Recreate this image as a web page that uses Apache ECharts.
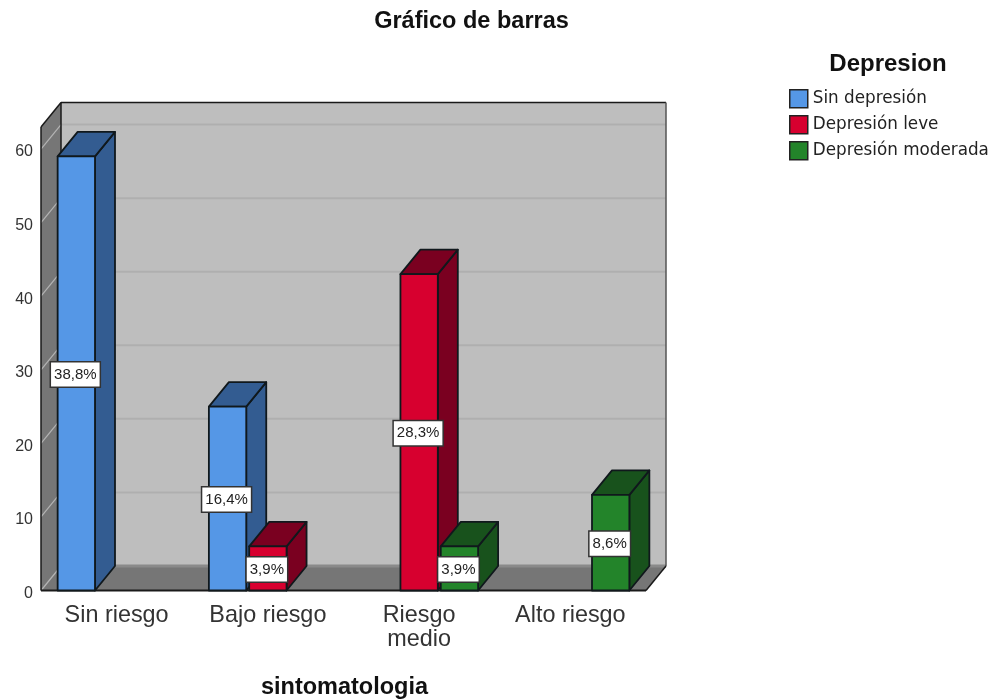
<!DOCTYPE html>
<html><head><meta charset="utf-8">
<style>html,body{margin:0;padding:0;background:#fff}#c{width:992px;height:700px}</style>
<script src="https://cdn.jsdelivr.net/npm/echarts@6/dist/echarts.min.js"></script>
</head><body><div id="c"></div>
<script>
const categories = ['Sin riesgo', 'Bajo riesgo', 'Riesgo\nmedio', 'Alto riesgo'];
const sinDepresion = [59, 25, null, null];
const depresionLeve = [null, 6, 43, null];
const depresionModerada = [null, null, 6, 13];
const pctSinDepresion = ['38,8%', '16,4%', null, null];
const pctDepresionLeve = [null, '3,9%', '28,3%', null];
const pctDepresionModerada = [null, null, '3,9%', '8,6%'];
const yTicks = [0, 10, 20, 30, 40, 50, 60];
const yMax = 63;
const seriesNames = ['Sin depresión', 'Depresión leve', 'Depresión moderada'];

const FRONT = ['#5597E6', '#D7002F', '#23842A'];
const SHADE = ['#335C91', '#7A0020', '#18521C'];
const EDGE = '#10181c';
const DX = 20, DY = -24.5;
const FONT = '"Liberation Sans", Arial, sans-serif';

const chart = echarts.init(document.getElementById('c'), null, {renderer: 'canvas'});

function renderWall(params, api) {
  const g = params.coordSys;
  const l = g.x, r = g.x + g.width;
  const y0 = api.coord([0, 0])[1], yT = api.coord([0, yMax])[1];
  const poly = (pts, fill) => ({type: 'polygon', shape: {points: pts}, style: {fill: fill}});
  const line = (a, b, c, w) => ({type: 'line', shape: {x1: a[0], y1: a[1], x2: b[0], y2: b[1]},
    style: {stroke: c, lineWidth: w}});
  const ch = [];
  ch.push(poly([[l + DX, yT + DY], [r + DX, yT + DY], [r + DX, y0 + DY], [l + DX, y0 + DY]], '#BEBEBE'));
  ch.push(poly([[l, y0], [l + DX, y0 + DY], [l + DX, yT + DY], [l, yT]], '#767676'));
  ch.push(poly([[l, y0], [l + DX, y0 + DY], [r + DX, y0 + DY], [r, y0]], '#767676'));
  yTicks.forEach(v => {
    const y = api.coord([0, v])[1];
    ch.push(line([l, y], [l + DX, y + DY], '#B4B4B4', 1.2));
    ch.push(line([l + DX, y + DY], [r + DX, y + DY], v === 0 ? '#8a8a8a' : '#AFAFAF', v === 0 ? 3 : 2));
  });
  ch.push(line([l + DX, yT + DY], [r + DX, yT + DY], '#1a1a1a', 1.5));
  ch.push(line([r + DX, yT + DY], [r + DX, y0 + DY], '#555', 1.5));
  ch.push(line([l + DX, yT + DY], [l + DX, y0 + DY], '#1a1a1a', 1.5));
  ch.push(line([l, yT], [l + DX, yT + DY], '#1a1a1a', 1.5));
  ch.push(line([l, yT], [l, y0], '#1a1a1a', 1.5));
  ch.push(line([l, y0], [r, y0], '#1a1a1a', 2));
  ch.push(line([r, y0], [r + DX, y0 + DY], '#1a1a1a', 1.5));
  return {type: 'group', children: ch};
}

function renderBar(k, labels) {
  return function (params, api) {
    const v = api.value(1);
    if (v == null || isNaN(v)) return null;
    const i = api.value(0);
    const band = api.size([1, 0])[0];
    const step = band * 0.2665, w = band * 0.247;
    const c = api.coord([i, v]);
    const base = api.coord([i, 0])[1];
    const cx = c[0] + (k - 1) * step;
    const x1 = cx - w / 2, x2 = cx + w / 2, top = c[1];
    const st = f => ({fill: f, stroke: EDGE, lineWidth: 1.8, lineJoin: 'round'});
    const ch = [
      {type: 'polygon', shape: {points: [[x2, base], [x2 + DX, base + DY], [x2 + DX, top + DY], [x2, top]]}, style: st(SHADE[k])},
      {type: 'polygon', shape: {points: [[x1, top], [x1 + DX, top + DY], [x2 + DX, top + DY], [x2, top]]}, style: st(SHADE[k])},
      {type: 'rect', shape: {x: x1, y: top, width: w, height: base - top}, style: st(FRONT[k])}
    ];
    ch.push({type: 'text', z2: 100, x: cx - 1, y: (top + base) / 2 + 1,
      style: {text: labels[i], fill: '#222', font: '15px ' + FONT, align: 'center', verticalAlign: 'middle',
        backgroundColor: '#fff', borderColor: '#333', borderWidth: 1.5, padding: [5, 3, 4, 3]}});
    return {type: 'group', children: ch};
  };
}

function toData(vals) { return vals.map((v, i) => [i, v == null ? NaN : v]); }

chart.setOption({
  animation: false,
  backgroundColor: '#fff',
  title: [
    {text: 'Gráfico de barras', left: 466.5, top: 5, textAlign: 'center', textStyle: {fontFamily: FONT, fontWeight: 'bold', fontSize: 23.5, color: '#111'}},
    {text: 'sintomatologia', left: 339.5, top: 671, textAlign: 'center', textStyle: {fontFamily: FONT, fontWeight: 'bold', fontSize: 23.5, color: '#111'}},
    {text: 'Depresion', left: 883, top: 47, textAlign: 'center', textStyle: {fontFamily: FONT, fontWeight: 'bold', fontSize: 24, color: '#111'}}
  ],
  legend: {
    left: 784, top: 84, orient: 'vertical', itemWidth: 18, itemHeight: 18, itemGap: 6.5, selectedMode: false,
    data: seriesNames.map(n => ({name: n, icon: 'rect'})),
    itemStyle: {borderColor: '#222', borderWidth: 1.5},
    textStyle: {fontFamily: 'DejaVu Sans', fontSize: 16.8, color: '#222'}
  },
  grid: {left: 41, right: 346, top: 127, bottom: 109.5, containLabel: false},
  xAxis: {type: 'category', data: categories, axisTick: {show: false}, axisLine: {show: false}, splitLine: {show: false},
    axisLabel: {fontFamily: FONT, fontSize: 23.4, color: '#333', lineHeight: 24, margin: 13, interval: 0}},
  yAxis: {type: 'value', min: 0, max: yMax, interval: 10, axisTick: {show: false}, axisLine: {show: false}, splitLine: {show: false},
    axisLabel: {margin: 8, showMaxLabel: false, formatter: '{a|{value}}',
      rich: {a: {fontFamily: FONT, fontSize: 16, color: '#333', padding: [6, 0, 0, 0]}}}},
  series: [
    {type: 'custom', name: 'wall', silent: true, renderItem: renderWall, data: [[0, 0]], encode: {x: 0, y: 1}, z: 1},
    {type: 'custom', name: seriesNames[0], silent: true, renderItem: renderBar(0, pctSinDepresion), data: toData(sinDepresion), encode: {x: 0, y: 1}, itemStyle: {color: FRONT[0]}, z: 2},
    {type: 'custom', name: seriesNames[1], silent: true, renderItem: renderBar(1, pctDepresionLeve), data: toData(depresionLeve), encode: {x: 0, y: 1}, itemStyle: {color: FRONT[1]}, z: 2},
    {type: 'custom', name: seriesNames[2], silent: true, renderItem: renderBar(2, pctDepresionModerada), data: toData(depresionModerada), encode: {x: 0, y: 1}, itemStyle: {color: FRONT[2]}, z: 2}
  ]
});
</script></body></html>
